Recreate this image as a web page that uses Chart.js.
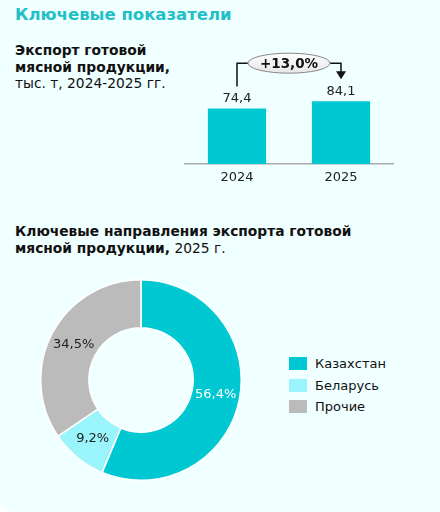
<!DOCTYPE html>
<html lang="ru">
<head>
<meta charset="utf-8">
<script src="https://cdn.jsdelivr.net/npm/chart.js@4/dist/chart.umd.min.js"></script>
<style>
  html, body { margin: 0; padding: 0; background: #ffffff; }
  #card {
    position: relative; width: 440px; height: 512px; background: #f0ffff;
    border-bottom-left-radius: 14px; overflow: hidden;
    font-family: "DejaVu Sans", Verdana, sans-serif; color: #111;
  }
  .t { position: absolute; left: 15px; white-space: nowrap; font-size: 13.8px; line-height: 16.5px; }
  .t b { font-weight: bold; }
  #head { top: 4px; font-size: 16.5px; line-height: 22px; font-weight: bold; color: #22bfc9; }
  #sub1 { top: 42px; }
  #sub2 { top: 223px; }
  #barBox { position: absolute; left: 180px; top: 40px; width: 220px; height: 150px; }
  #pieBox { position: absolute; left: 36px; top: 275px; width: 210px; height: 210px; }
  #legend { position: absolute; left: 289px; top: 353px; font-size: 13px; }
  .li { height: 21.5px; display: flex; align-items: center; }
  .sw { width: 18px; height: 13px; margin-right: 8px; }
</style>
</head>
<body>
<div id="card">
  <div id="head" class="t">Ключевые показатели</div>
  <div id="sub1" class="t"><b>Экспорт готовой<br>мясной продукции,</b><br>тыс. т, 2024-2025 гг.</div>
  <div id="sub2" class="t"><b>Ключевые направления экспорта готовой<br>мясной продукции,</b> 2025 г.</div>
  <div id="barBox"><canvas id="barChart"></canvas></div>
  <div id="pieBox"><canvas id="pieChart"></canvas></div>
  <div id="legend"></div>
</div>
<script>
const years = ['2024', '2025'];
const exportValues = [74.4, 84.1];
const growthLabel = '+13,0%';

const countries = ['Казахстан', 'Беларусь', 'Прочие'];
const shares = [56.4, 9.2, 34.5];
const countryColors = ['#00c8d2', '#99f4fc', '#bbbbbb'];

const fmt = v => v.toFixed(1).replace('.', ',');
const FONT = '"DejaVu Sans", Verdana, sans-serif';

// value labels, year labels under the axis, and the growth bracket
const barLabels = {
    id: 'barLabels',
    afterDatasetsDraw(chart) {
        const ctx = chart.ctx;
        const xs = chart.scales.x;
        const bars = chart.getDatasetMeta(0).data;
        ctx.save();
        ctx.font = '13px ' + FONT;
        ctx.fillStyle = '#222';
        ctx.textAlign = 'center';
        ctx.textBaseline = 'bottom';
        bars.forEach((b, i) => ctx.fillText(fmt(exportValues[i]), b.x, b.y - 3));
        ctx.textBaseline = 'middle';
        years.forEach((y, i) => ctx.fillText(y, xs.getPixelForTick(i), xs.top + 14));

        const a = bars[0], c = bars[1];
        const top = Math.min(a.y, c.y) - 38;
        const mx = (a.x + c.x) / 2;
        ctx.strokeStyle = '#111';
        ctx.lineWidth = 1.5;
        ctx.beginPath();
        ctx.moveTo(a.x, a.y - 22);
        ctx.lineTo(a.x, top);
        ctx.lineTo(c.x, top);
        ctx.lineTo(c.x, c.y - 28);
        ctx.stroke();
        ctx.fillStyle = '#111';
        ctx.beginPath();
        ctx.moveTo(c.x - 5, c.y - 30);
        ctx.lineTo(c.x + 5, c.y - 30);
        ctx.lineTo(c.x, c.y - 22);
        ctx.closePath();
        ctx.fill();

        const g = ctx.createLinearGradient(0, top - 10, 0, top + 10);
        g.addColorStop(0, '#ffffff');
        g.addColorStop(1, '#e6e6e6');
        ctx.fillStyle = g;
        ctx.strokeStyle = '#888';
        ctx.lineWidth = 1;
        ctx.beginPath();
        ctx.ellipse(mx, top, 41, 10, 0, 0, Math.PI * 2);
        ctx.fill();
        ctx.stroke();
        ctx.fillStyle = '#111';
        ctx.font = 'bold 13.5px ' + FONT;
        ctx.textBaseline = 'middle';
        ctx.fillText(growthLabel, mx, top + 1);
        ctx.restore();
    }
};

new Chart(document.getElementById('barChart'), {
    type: 'bar',
    data: {
        labels: years,
        datasets: [{
            data: exportValues,
            backgroundColor: '#00c8d2',
            categoryPercentage: 1,
            barPercentage: 0.56
        }]
    },
    options: {
        responsive: true,
        maintainAspectRatio: false,
        animation: false,
        layout: { padding: { left: 5, right: 7, top: 0, bottom: 18 } },
        plugins: { legend: { display: false }, tooltip: { enabled: false } },
        scales: {
            y: { display: false, min: 0, max: 166 },
            x: {
                grid: { display: false },
                border: { color: '#aaaaaa', width: 1.5 },
                ticks: { display: false }
            }
        }
    },
    plugins: [barLabels]
});

// percentage labels inside the ring
const pieLabels = {
    id: 'pieLabels',
    afterDatasetsDraw(chart) {
        const ctx = chart.ctx;
        ctx.save();
        ctx.font = '13px ' + FONT;
        ctx.textAlign = 'center';
        ctx.textBaseline = 'middle';
        chart.getDatasetMeta(0).data.forEach((arc, i) => {
            const p = arc.tooltipPosition();
            ctx.fillStyle = i === 0 ? '#ffffff' : '#222';
            ctx.fillText(fmt(shares[i]) + '%', p.x, p.y);
        });
        ctx.restore();
    }
};

new Chart(document.getElementById('pieChart'), {
    type: 'doughnut',
    data: {
        labels: countries,
        datasets: [{
            data: shares,
            backgroundColor: countryColors,
            borderColor: '#ffffff',
            borderWidth: 1.5
        }]
    },
    options: {
        responsive: true,
        maintainAspectRatio: false,
        animation: false,
        cutout: '52%',
        layout: { padding: 4 },
        plugins: { legend: { display: false }, tooltip: { enabled: false } }
    },
    plugins: [pieLabels]
});

const legend = document.getElementById('legend');
countries.forEach((name, i) => {
    const row = document.createElement('div');
    row.className = 'li';
    row.innerHTML = '<span class="sw" style="background:' + countryColors[i] + '"></span>' + name;
    legend.appendChild(row);
});
</script>
</body>
</html>
